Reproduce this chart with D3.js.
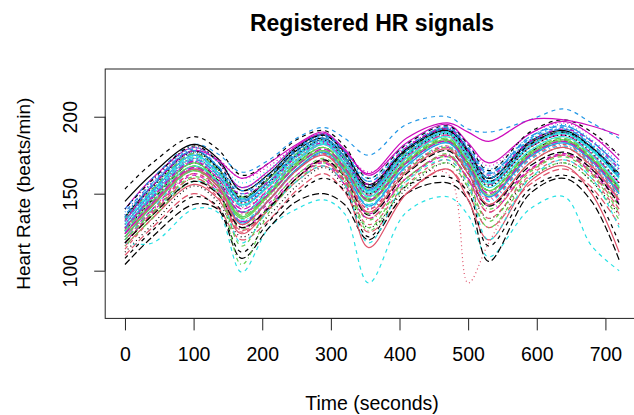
<!DOCTYPE html>
<html lang="en">
  <head>
    <meta charset="utf-8">
    <title>Registered HR signals</title>
    <style>
      body {
        margin: 0;
        background: #fff;
      }
      svg {
        display: block;
        font-family: "Liberation Sans", Arial, sans-serif;
      }
    </style>
    <script src="https://d3js.org/d3.v7.min.js"></script>
  </head>
  <body>
    <div class="chart"></div>
    <script>

    // sample times (seconds) shared by every signal
    const times = [0, 40, 100, 135, 170, 210, 250, 290, 320, 355, 410, 470, 500, 530, 590, 640, 680, 720]

    const xTicks = [0, 100, 200, 300, 400, 500, 600, 700]
    const yTicks = [100, 150, 200]

    // R default palette, matplot col = 1:6, lty = 1:5
    const palette = ["#000000", "#DF536B", "#61D04F", "#2297E6", "#28E2E5", "#CD0BBC"]
    const dashes = [null, "4,4", "1,3", "1,3,4,3", "7,3"]

    // heart rate (beats/min), one row per registered signal
    const signals = [
      [135,155,178,167,147,160,178,186,174,154,178,191,177,160,184,191,180,162],
      [122,140,165,153,130,146,165,176,162,138,165,180,164,143,170,180,167,145],
      [130,150,174,163,142,156,173,183,170,150,174,188,173,156,180,188,176,158],
      [138,157,178,168,150,162,178,188,176,158,180,193,179,163,185,193,182,166],
      [125,145,170,157,135,150,168,178,165,143,169,183,167,148,174,183,171,150],
      [140,160,180,171,154,165,181,189,179,162,183,195,183,170,189,197,188,172],
      [153,170,187,179,162,170,185,191,181,160,182,194,182,165,190,198,190,175],
      [126,145,168,155,132,148,168,178,164,140,160,163,92,118,162,176,165,145],
      [118,136,160,150,127,140,160,172,159,133,158,176,159,140,165,176,164,142],
      [132,152,176,165,145,158,176,186,174,155,178,192,179,163,187,194,184,168],
      [128,149,173,162,143,155,172,183,170,150,175,189,174,157,181,189,178,160],
      [120,140,163,153,132,144,162,172,159,137,160,174,160,142,166,175,164,144],
      [112,130,155,145,122,136,155,167,154,128,153,170,154,134,160,170,158,136],
      [124,143,167,157,137,150,168,178,166,145,170,184,169,151,176,184,172,152],
      [133,153,176,166,148,160,176,185,173,153,177,190,176,160,182,190,180,163],
      [130,151,175,164,146,158,175,185,172,152,176,190,175,158,181,190,179,161],
      [118,118,140,138,99,128,140,146,137,92,138,148,136,109,140,148,116,100],
      [136,158,180,173,160,168,181,188,178,164,181,193,182,168,189,196,188,175],
      [126,146,170,159,138,152,170,180,167,146,171,185,170,152,177,185,173,154],
      [110,128,150,141,120,133,152,163,151,125,150,166,150,128,156,166,154,130],
      [128,147,170,158,135,150,169,180,167,145,170,184,168,149,175,184,172,151],
      [140,160,182,176,164,172,186,193,186,175,195,200,192,190,198,205,196,186],
      [135,156,180,171,157,166,180,188,177,160,180,192,178,162,185,192,182,166],
      [122,142,166,155,132,146,165,176,163,140,166,180,165,146,172,181,169,148],
      [104,122,143,140,108,128,145,150,143,120,150,157,146,106,150,160,145,107],
      [116,134,156,147,124,140,158,168,156,115,150,166,146,120,158,168,150,112],
      [124,144,168,156,128,146,166,177,164,137,165,180,164,142,170,180,168,147],
      [132,153,177,167,149,160,177,186,175,156,179,192,178,161,184,192,182,165],
      [120,140,165,155,133,146,165,176,163,141,167,181,165,145,172,181,169,147],
      [127,147,171,160,140,153,171,182,169,149,174,188,173,156,180,188,176,157],
      [145,163,182,173,152,163,180,188,177,156,179,192,178,160,183,190,180,163],
      [114,134,158,148,125,140,160,171,157,130,156,172,156,134,162,172,160,137],
      [126,146,170,160,144,155,172,182,169,149,173,187,172,155,179,187,175,156],
      [136,156,179,168,145,158,177,187,174,152,176,190,175,156,181,190,179,160],
      [130,150,174,164,147,158,175,184,172,151,176,190,175,158,181,190,179,162],
      [132,155,178,172,160,170,182,190,178,163,186,196,190,184,198,198,194,188],
      [108,126,148,142,112,132,150,160,152,122,155,161,151,116,153,162,152,118],
      [128,148,172,161,141,154,172,182,170,150,174,188,173,155,180,188,176,157],
      [116,134,158,151,104,138,158,170,158,126,155,170,154,128,160,170,158,133],
      [128,148,172,162,142,156,174,184,172,153,178,192,177,160,183,192,181,163],
      [124,144,168,158,138,152,171,182,169,148,173,187,172,154,178,187,175,155],
      [118,138,162,151,128,142,160,170,156,134,160,175,160,138,166,176,166,146],
      [134,154,177,166,144,157,175,185,172,150,175,189,174,155,180,188,177,157],
      [120,139,163,153,130,146,166,176,163,140,166,181,166,147,173,182,170,149],
      [126,145,168,157,136,151,170,180,168,147,172,186,171,152,177,186,174,154],
      [122,142,166,155,131,146,166,177,165,142,168,183,167,148,174,183,171,150],
      [120,138,158,151,118,140,158,168,156,118,158,172,156,120,160,172,160,128],
      [130,150,173,163,144,156,174,184,172,153,176,190,175,158,182,190,180,162],
      [140,159,181,171,148,161,179,188,176,155,178,191,177,158,182,190,180,161],
      [118,137,160,150,126,141,160,171,158,134,160,175,159,138,165,175,163,140],
      [122,142,165,155,134,149,168,178,166,146,171,185,170,152,176,185,173,153],
      [134,155,178,168,152,162,179,188,177,158,180,193,180,164,186,194,184,168],
      [126,147,171,161,142,155,173,183,171,152,175,189,174,157,180,189,177,158],
      [128,148,171,161,150,158,174,183,172,156,180,192,178,162,184,192,184,166],
      [118,136,158,150,128,141,160,172,161,136,163,178,163,142,168,177,166,143],
      [124,143,166,155,130,146,165,175,162,138,164,179,163,143,170,180,168,146],
      [120,138,161,152,116,142,162,173,161,128,160,174,158,132,164,174,162,138],
      [136,157,180,171,154,164,180,189,178,160,182,194,181,166,187,195,185,170],
      [132,152,175,164,143,156,174,184,172,151,176,190,175,157,181,190,179,161],
      [124,144,167,157,138,150,168,179,167,146,170,184,169,150,175,184,172,152]
    ]

    const W = 634, H = 415

    const svg = d3.select(".chart")
      .append("svg")
      .attr("width", W)
      .attr("height", H)

    const x = d3.scaleLinear()
      .domain([-28.8, 748.8])
      .range([105.2, 638.9])

    const y = d3.scaleLinear()
      .domain([69, 231])
      .range([318.4, 69])

    svg.append("clipPath")
      .attr("id", "plotclip")
      .append("rect")
      .attr("x", x.range()[0])
      .attr("y", y.range()[1])
      .attr("width", x.range()[1] - x.range()[0])
      .attr("height", y.range()[0] - y.range()[1])

    const line = d3.line()
      .x((d, i) => x(times[i]))
      .y(d => y(d))
      .curve(d3.curveCatmullRom.alpha(0.5))

    svg.append("g")
      .attr("clip-path", "url(#plotclip)")
      .selectAll("path")
      .data(signals)
      .join("path")
      .attr("d", d => line(d))
      .attr("fill", "none")
      .attr("stroke", (d, i) => palette[i % palette.length])
      .attr("stroke-width", 1.2)
      .attr("stroke-dasharray", (d, i) => dashes[i % dashes.length])

    // box
    svg.append("rect")
      .attr("x", x.range()[0])
      .attr("y", y.range()[1])
      .attr("width", x.range()[1] - x.range()[0])
      .attr("height", y.range()[0] - y.range()[1])
      .attr("fill", "none")
      .attr("stroke", "#222")
      .attr("stroke-width", 1)

    // R style axes
    const xAxis = g => g.attr("transform", `translate(0,${y.range()[0]})`)
      .call(d3.axisBottom(x).tickValues(xTicks).tickSize(12).tickPadding(17).tickSizeOuter(0))

    const yAxis = g => g.attr("transform", `translate(${x.range()[0]},0)`)
      .call(d3.axisLeft(y).tickValues(yTicks).tickSize(11).tickSizeOuter(0))

    const gx = svg.append("g").call(xAxis)
    gx.select(".domain").attr("d", `M${x(0)},0H${x(700)}`).attr("stroke", "#222")
    gx.selectAll(".tick line").attr("stroke", "#222")
    gx.selectAll(".tick text")
      .attr("fill", "#000")
      .style("font-size", "19.5px")
      .style("font-family", "Liberation Sans, Arial, sans-serif")

    const gy = svg.append("g").call(yAxis)
    gy.select(".domain").attr("d", `M0,${y(100)}V${y(200)}`).attr("stroke", "#222")
    gy.selectAll(".tick line").attr("stroke", "#222")
    gy.selectAll(".tick text")
      .attr("x", null).attr("dy", null)
      .attr("text-anchor", "middle")
      .attr("transform", "translate(-28,0) rotate(-90)")
      .attr("fill", "#000")
      .style("font-size", "19.5px")
      .style("font-family", "Liberation Sans, Arial, sans-serif")

    svg.append("text")
      .attr("x", (x.range()[0] + x.range()[1]) / 2)
      .attr("y", 31)
      .attr("text-anchor", "middle")
      .style("font-weight", "bold")
      .style("font-size", "23px")
      .text("Registered HR signals")

    svg.append("text")
      .attr("x", (x.range()[0] + x.range()[1]) / 2)
      .attr("y", 410)
      .attr("text-anchor", "middle")
      .style("font-size", "19.5px")
      .text("Time (seconds)")

    svg.append("text")
      .attr("transform", `translate(29.5,${(y.range()[0] + y.range()[1]) / 2}) rotate(-90)`)
      .attr("text-anchor", "middle")
      .style("font-size", "19px")
      .text("Heart Rate (beats/min)")

    </script>
  </body>
</html>
